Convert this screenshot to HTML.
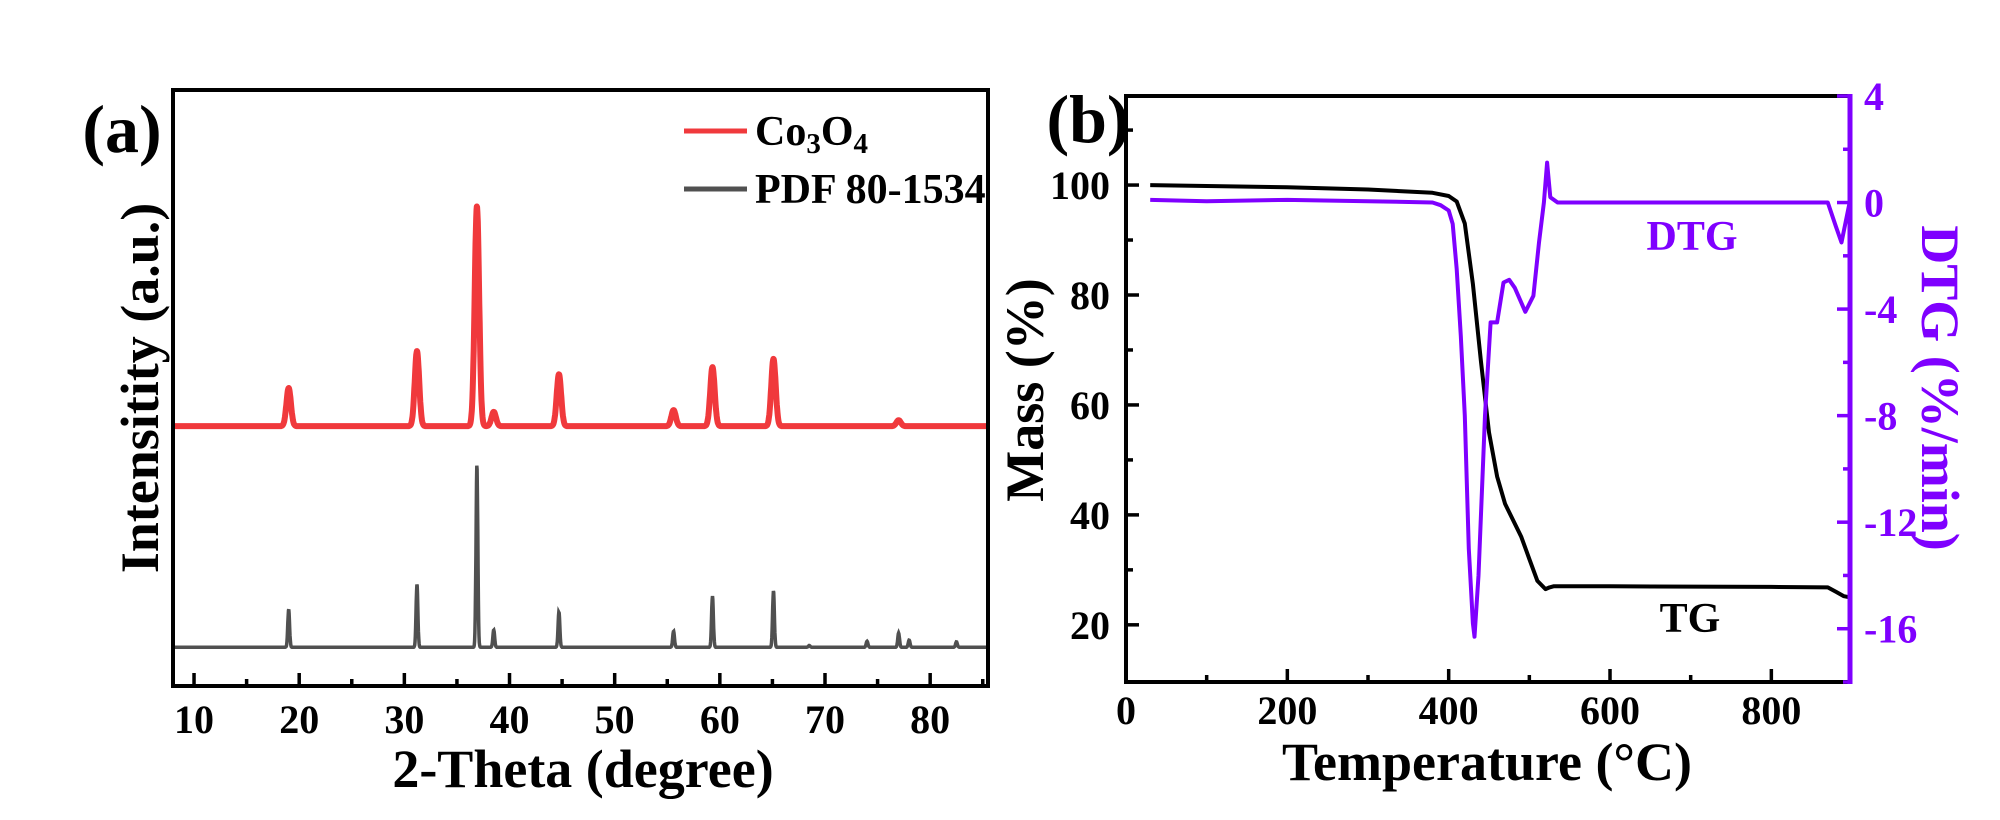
<!DOCTYPE html>
<html><head><meta charset="utf-8"><style>
html,body{margin:0;padding:0;background:#fff;}
svg{display:block;}
text{font-family:"Liberation Serif",serif;font-weight:bold;}
</style></head><body>
<svg id="fig" width="2000" height="820" viewBox="0 0 2000 820" xmlns="http://www.w3.org/2000/svg">
<rect width="2000" height="820" fill="#fff"/>
<g id="pa"></g>
<g id="pb"></g>
</svg>
<script>
// ---------- Panel (a) data ----------
const xrdTicks = [10,20,30,40,50,60,70,80];
const co3o4PeakPos = [19.0,31.2,36.9,38.5,44.7,55.6,59.3,65.1,77.0];
const co3o4PeakInt = [50.0,56.2,80.5,46.0,52.3,46.3,53.5,54.9,44.6];
const co3o4Base = 43.6;
const pdfPeakPos = [19.0,31.2,36.9,38.5,44.7,55.6,59.3,65.1,68.5,74.0,77.0,78.0,82.5];
const pdfPeakInt = [12.9,17.1,37.2,9.4,12.4,9.2,15.1,16.0,6.8,7.5,8.9,7.7,7.4];
const pdfBase = 6.5;
// ---------- Panel (b) data ----------
const tempTicks = [0,200,400,600,800];
const massTicks = [20,40,60,80,100];
const dtgTicks = [4,0,-4,-8,-12,-16];
const tgT = [30,200,300,380,400,410,420,430,440,450,460,470,480,490,500,510,520,525,530,600,800,870,880,890,897];
const tgM = [100,99.6,99.2,98.6,98.0,97,93,82,68,55,47,42,39,36,32,28,26.5,26.8,27,27,26.9,26.8,26,25.2,25];
const dtgT = [30,100,200,300,380,390,400,405,410,415,420,425,430,432,437,445,452,460,468,475,482,495,505,512,518,522,526,535,600,700,800,870,880,887,897];
const dtgV = [0.1,0.05,0.1,0.05,0,-0.1,-0.3,-0.8,-2.5,-5,-8,-13,-15.8,-16.3,-14,-8,-4.5,-4.5,-3.0,-2.9,-3.2,-4.1,-3.5,-1.5,0,1.5,0.2,0,0,0,0,0,-0.9,-1.5,0];

const NS="http://www.w3.org/2000/svg";
const SX=1.0;
function mk(parent,tag,attrs){const e=document.createElementNS(NS,tag);for(const k in attrs)e.setAttribute(k,attrs[k]);parent.appendChild(e);return e;}
function txt(parent,x,y,s,size,anchor,fill,rot){
  const t=document.createElementNS(NS,'text');
  t.setAttribute('transform','translate('+x+','+y+')'+(rot?' rotate('+rot+')':'')+' scale('+SX+',1)');
  t.setAttribute('font-size',size);t.setAttribute('text-anchor',anchor||'middle');t.setAttribute('fill',fill||'#000');
  t.textContent=s;parent.appendChild(t);return t;}

// ===== Panel (a) =====
const pa=document.getElementById('pa');
const aL=173,aR=988,aT=90,aB=686;
const ax=v=>aL+(v-8)/(85.5-8)*(aR-aL);
const ay=v=>aB-v/100*(aB-aT);
function pattern(pos,ints,base,w){
  let d='';
  for(let x=8;x<=85.5;x+=0.03){
    let v=base;
    for(let i=0;i<pos.length;i++){v+=(ints[i]-base)*Math.exp(-Math.pow((x-pos[i])/w,2));}
    d+=(d?'L':'M')+ax(x).toFixed(1)+','+ay(v).toFixed(1);
  }
  return d;}
const pdfLine=mk(pa,'path',{d:pattern(pdfPeakPos,pdfPeakInt,pdfBase,0.12),fill:'none',stroke:'#505050','stroke-width':3.5});


const coLine=mk(pa,'path',{d:pattern(co3o4PeakPos,co3o4PeakInt,co3o4Base,0.3),fill:'none',stroke:'#F0393C','stroke-width':6,'stroke-linejoin':'round'});


const aFrame=mk(pa,'rect',{x:aL,y:aT,width:aR-aL,height:aB-aT,fill:'none',stroke:'#000','stroke-width':4});


for(let v=10;v<=85;v+=5){
  const major=v%10===0;
  const tk=mk(pa,'line',{x1:ax(v),x2:ax(v),y1:aB,y2:aB-(major?13:7),stroke:'#000','stroke-width':3.5});
  
  
}
xrdTicks.forEach(v=>{const t=txt(pa,ax(v),733,String(v),40);
  
  });
const aXT=txt(pa,583,787,'2-Theta (degree)',54);


const aYT=txt(pa,158,388,'Intensitity (a.u.)',54,'middle','#000',-90);


const aLab=txt(pa,122,152,'(a)',68);


// legend
const lg=mk(pa,'g',{});


mk(lg,'line',{x1:684,x2:747,y1:131,y2:131,stroke:'#F0393C','stroke-width':5});
const l1=document.createElementNS(NS,'text');
l1.setAttribute('transform','translate(755,145) scale('+SX+',1)');l1.setAttribute('font-size',42);
l1.innerHTML='Co<tspan font-size="29" dy="8">3</tspan><tspan dy="-8">O</tspan><tspan font-size="29" dy="8">4</tspan>';
lg.appendChild(l1);


mk(lg,'line',{x1:684,x2:747,y1:189,y2:189,stroke:'#505050','stroke-width':5});
const l2=txt(lg,755,203,'PDF 80-1534',42,'start');



// ===== Panel (b) =====
const pb=document.getElementById('pb');
const bL=1126,bR=1850,bT=96,bB=682;
const bx=v=>bL+v/897.5*(bR-bL);
const by=v=>bB-(v-9.6)/(116.2-9.6)*(bB-bT);
const dy=v=>bB-(v+18)/22*(bB-bT);
let dT='';tgT.forEach((t,i)=>{dT+=(i?'L':'M')+bx(t).toFixed(1)+','+by(tgM[i]).toFixed(1);});
const tgLine=mk(pb,'path',{d:dT,fill:'none',stroke:'#000','stroke-width':4,'stroke-linejoin':'round'});


let dD='';dtgT.forEach((t,i)=>{dD+=(i?'L':'M')+bx(t).toFixed(1)+','+dy(dtgV[i]).toFixed(1);});
const dtgLine=mk(pb,'path',{d:dD,fill:'none',stroke:'#7F00FF','stroke-width':4,'stroke-linejoin':'round'});


const fr=mk(pb,'path',{d:`M${bR},${bT}L${bL},${bT}L${bL},${bB}L${bR},${bB}`,fill:'none',stroke:'#000','stroke-width':4});


const ra=mk(pb,'line',{x1:bR,x2:bR,y1:bT-2,y2:bB+2,stroke:'#7F00FF','stroke-width':5});


for(let v=0;v<=897;v+=100){const t=mk(pb,'line',{x1:bx(v),x2:bx(v),y1:bB,y2:bB-(v%200===0?13:7),stroke:'#000','stroke-width':3.5});
  
  }
for(let v=20;v<=110;v+=10){const t=mk(pb,'line',{x1:bL,x2:bL+(v%20===0?13:7),y1:by(v),y2:by(v),stroke:'#000','stroke-width':3.5});
  
  }
for(let v=-18;v<=4;v+=2){const t=mk(pb,'line',{x1:bR,x2:bR-(v%4===0?13:7),y1:dy(v),y2:dy(v),stroke:'#7F00FF','stroke-width':3.5});
  
  }
tempTicks.forEach(v=>{const t=txt(pb,bx(v),724,String(v),40);
  
  });
massTicks.forEach(v=>{const t=txt(pb,1110,by(v)+14,String(v),40,'end');
  
  });
dtgTicks.forEach(v=>{const t=txt(pb,1864,dy(v)+14,String(v),40,'start','#7F00FF');
  
  });
const bXT=txt(pb,1487,780,'Temperature (\u00B0C)',54);


const bYT=txt(pb,1043,390,'Mass (%)',54,'middle','#000',-90);


const bY2=txt(pb,1922,388,'DTG (%/min)',54,'middle','#7F00FF',90);


const bLab=txt(pb,1088,142,'(b)',68);


const dl=txt(pb,1692,250,'DTG',42,'middle','#7F00FF');


const tl=txt(pb,1690,632,'TG',42);


</script>
</body></html>
